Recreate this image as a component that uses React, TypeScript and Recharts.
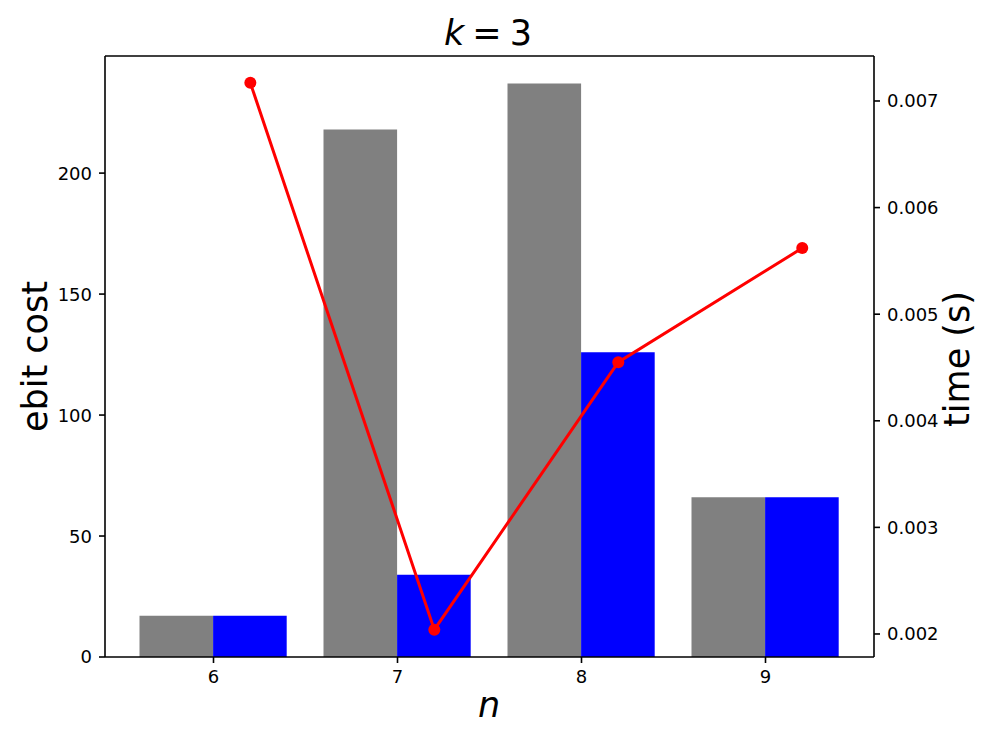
import React from "react";
import {
  ComposedChart,
  Bar,
  Line,
  XAxis,
  YAxis,
  Label,
} from "recharts";

// values
const categories = [6, 7, 8, 9];
const grayCost = [17, 218, 237, 66];
const blueCost = [17, 34, 126, 66];
const timeX = [6.2, 7.2, 8.2, 9.2];
const timeSec = [0.00717, 0.00204, 0.00455, 0.00562];
const costTicks = [0, 50, 100, 150, 200];
const timeTicks = [0.002, 0.003, 0.004, 0.005, 0.006, 0.007];

const data = categories.map((n, i) => ({
  n,
  gray: grayCost[i],
  blue: blueCost[i],
  tx: timeX[i],
  time: timeSec[i],
}));

const FONT = "DejaVu Sans, sans-serif";
const TICK_FS = 18;
const LABEL_FS = 35;
const axisStroke = { stroke: "#000", strokeWidth: 1.6 };

// tick labels drawn by hand so font and gap match matplotlib
const LeftTick = (p: any) => (
  <text x={p.x} y={p.y} dy="0.36em" textAnchor="end" fontSize={TICK_FS} fontFamily={FONT} fill="#000">
    {p.payload.value}
  </text>
);
const RightTick = (p: any) => (
  <text x={p.x} y={p.y} dy="0.36em" textAnchor="start" fontSize={TICK_FS} fontFamily={FONT} fill="#000">
    {Number(p.payload.value).toFixed(3)}
  </text>
);
const BottomTick = (p: any) => (
  <text x={p.x} y={p.y} dy="0.74em" textAnchor="middle" fontSize={TICK_FS} fontFamily={FONT} fill="#000">
    {p.payload.value}
  </text>
);

const App = () => {
  return (
    <div style={{ position: "absolute", left: 0, top: 0, width: 996, height: 747 }}>
      <ComposedChart
        width={996}
        height={747}
        data={data}
        margin={{ top: 55, right: 42, bottom: 60, left: 45 }}
        barGap={0}
      >
        <XAxis
          dataKey="n"
          xAxisId="cat"
          padding={{ left: 16.5, right: 16.5 }}
          tick={BottomTick}
          tickSize={6}
          tickMargin={7}
          height={30}
          axisLine={axisStroke}
          tickLine={axisStroke}
        >
          <Label
            content={() => (
              <text x={489} y={717} textAnchor="middle" fontSize={LABEL_FS} fontFamily={FONT} fontStyle="italic" fill="#000">
                n
              </text>
            )}
          />
        </XAxis>
        <XAxis
          dataKey="tx"
          xAxisId="line"
          type="number"
          orientation="top"
          domain={[5.41, 9.59]}
          allowDataOverflow
          height={1}
          tick={false}
          tickLine={false}
          axisLine={axisStroke}
        >
          <Label
            content={() => (
              <text x={488} y={44.5} textAnchor="middle" fontSize={LABEL_FS} fontFamily={FONT} fill="#000">
                <tspan fontStyle="italic">k</tspan>
                <tspan dx={8}>=</tspan>
                <tspan dx={8}>3</tspan>
              </text>
            )}
          />
        </XAxis>
        <YAxis
          yAxisId="left"
          domain={[0, 248.4]}
          ticks={costTicks}
          allowDataOverflow
          width={60}
          tick={LeftTick}
          tickSize={6}
          tickMargin={7}
          axisLine={axisStroke}
          tickLine={axisStroke}
        >
          <Label
            content={() => (
              <text
                x={46.5}
                y={356.5}
                transform="rotate(-90, 46.5, 356.5)"
                textAnchor="middle"
                fontSize={LABEL_FS}
                fontFamily={FONT}
                fill="#000"
              >
                ebit cost
              </text>
            )}
          />
        </YAxis>
        <YAxis
          yAxisId="right"
          orientation="right"
          domain={[0.001784, 0.007422]}
          ticks={timeTicks}
          allowDataOverflow
          width={80}
          tick={RightTick}
          tickSize={6}
          tickMargin={7}
          axisLine={axisStroke}
          tickLine={axisStroke}
        >
          <Label
            content={() => (
              <text
                x={969}
                y={359}
                transform="rotate(-90, 969, 359)"
                textAnchor="middle"
                fontSize={LABEL_FS}
                fontFamily={FONT}
                fill="#000"
              >
                time (s)
              </text>
            )}
          />
        </YAxis>
        <Bar dataKey="gray" xAxisId="cat" yAxisId="left" fill="#808080" barSize={73.6} isAnimationActive={false} />
        <Bar dataKey="blue" xAxisId="cat" yAxisId="left" fill="#0000ff" barSize={73.6} isAnimationActive={false} />
        <Line
          dataKey="time"
          xAxisId="line"
          yAxisId="right"
          type="linear"
          stroke="#ff0000"
          strokeWidth={3}
          dot={{ r: 6, fill: "#ff0000", stroke: "none" }}
          isAnimationActive={false}
        />
      </ComposedChart>
    </div>
  );
};

export default App;
